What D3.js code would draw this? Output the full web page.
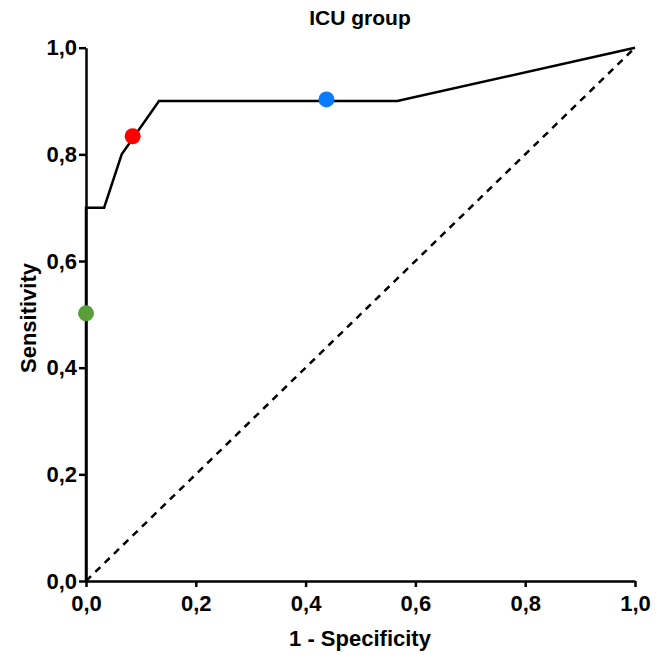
<!DOCTYPE html>
<html><head><meta charset="utf-8">
<script src="https://cdn.jsdelivr.net/npm/d3@7"></script>
<style>body{margin:0;background:#fff}svg{display:block}text{font-family:"Liberation Sans",Arial,sans-serif;font-weight:bold}</style>
</head><body>
<script>
const title = "ICU group";
const xLabel = "1 - Specificity";
const yLabel = "Sensitivity";
const rocFpr = [0, 0, 0.033, 0.065, 0.133, 0.567, 1.0];
const rocTpr = [0, 0.7, 0.7, 0.8, 0.9, 0.9, 1.0];
const markX = [0.085, 0.438, 0.0];
const markY = [0.834, 0.903, 0.502];
const markColors = ["#ff0000", "#0a7bff", "#5a9e3a"];
const tickValues = [0, 0.2, 0.4, 0.6, 0.8, 1.0];

const W = 664, H = 655;
const svg = d3.select("body").append("svg").attr("width", W).attr("height", H);
const x = d3.scaleLinear().domain([0, 1]).range([86, 635]);
const y = d3.scaleLinear().domain([0, 1]).range([581, 47.7]);
const fmt = d => d3.format(".1f")(d).replace(".", ",");

// diagonal
svg.append("line").attr("x1", x(0)).attr("y1", y(0)).attr("x2", x(1)).attr("y2", y(1))
  .attr("stroke", "#000").attr("stroke-width", 2.5).attr("stroke-dasharray", "7,6");

// axes
const xa = svg.append("g").attr("transform", `translate(0,${y(0)})`)
  .call(d3.axisBottom(x).tickValues(tickValues).tickFormat(fmt).tickSize(6).tickSizeOuter(0).tickPadding(8));
const ya = svg.append("g").attr("transform", `translate(${x(0)},0)`)
  .call(d3.axisLeft(y).tickValues(tickValues).tickFormat(fmt).tickSize(7).tickSizeOuter(0).tickPadding(2));
[xa, ya].forEach(g => {
  g.select(".domain").attr("stroke", "#000").attr("stroke-width", 2.5);
  g.selectAll(".tick line").attr("stroke", "#000").attr("stroke-width", 2.5);
  g.selectAll(".tick text").attr("fill", "#000").style("font-size", "22px").style("font-family", "'Liberation Sans',Arial,sans-serif").style("font-weight", "bold");
});

// roc curve
const pts = rocFpr.map((f, i) => [f, rocTpr[i]]);
svg.append("path").datum(pts)
  .attr("d", d3.line().x(d => x(d[0])).y(d => y(d[1])))
  .attr("fill", "none").attr("stroke", "#000").attr("stroke-width", 2.5).attr("stroke-linejoin", "miter");

// marks
svg.selectAll("circle.m").data(markX).join("circle").attr("class", "m")
  .attr("cx", d => x(d)).attr("cy", (d, i) => y(markY[i])).attr("r", 8)
  .attr("fill", (d, i) => markColors[i]);

// titles
svg.append("text").attr("x", 360).attr("y", 25).attr("text-anchor", "middle").style("font-size", "21px").text(title);
svg.append("text").attr("x", 360).attr("y", 646).attr("text-anchor", "middle").style("font-size", "22px").text(xLabel);
svg.append("text").attr("transform", "translate(36,318) rotate(-90)").attr("text-anchor", "middle").style("font-size", "22px").text(yLabel);
</script>
</body></html>
